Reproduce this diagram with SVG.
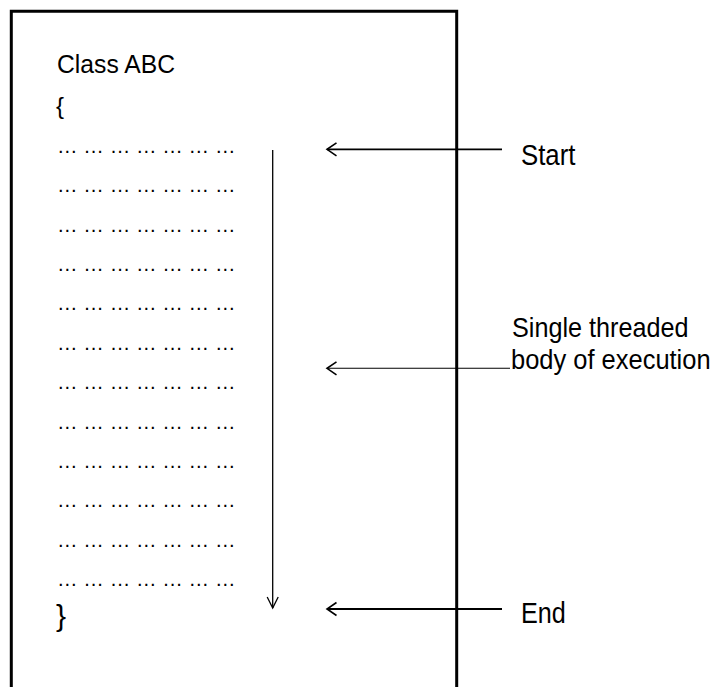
<svg xmlns="http://www.w3.org/2000/svg" width="716" height="687" viewBox="0 0 716 687">
<style>
.t{font-family:"Liberation Sans",Arial,sans-serif;fill:#000}
.lbl{font-family:"Liberation Sans",Arial,sans-serif;font-size:30px;fill:#000}
.lbl2{font-family:"Liberation Sans",Arial,sans-serif;font-size:28px;fill:#000}
.dots{font-family:"Liberation Sans",Arial,sans-serif;font-size:20.6px;fill:#000}
.conn{fill:none;stroke:#000}
</style>
<defs>
<marker id="headL" markerUnits="userSpaceOnUse" orient="auto" markerWidth="20" markerHeight="20" refX="0" refY="0" viewBox="-2 -10 14 20" overflow="visible">
<path d="M9.5,-6.5 L0,0 L9.5,6.5" fill="none" stroke="#000" stroke-width="1.6"/>
</marker>
<marker id="headD" markerUnits="userSpaceOnUse" orient="auto" markerWidth="20" markerHeight="20" refX="0" refY="0" viewBox="-14 -10 16 20" overflow="visible">
<path d="M-11,-5.5 L0,0 L-11,5.5" fill="none" stroke="#000" stroke-width="1.3"/>
</marker>
</defs>
<rect width="716" height="687" fill="#fff"/>
<g id="class-box">
<path d="M11.3,700 V11.3 H456.7 V700" fill="none" stroke="#000" stroke-width="3"/>
<text class="t" transform="translate(57,73) scale(0.95,1)" font-size="26">Class ABC</text>
<text class="t" x="56" y="114" font-size="24">{</text>
<g id="body-lines">
<text class="dots" x="57" y="152.7">… … … … … … …</text>
<text class="dots" x="57" y="192.1">… … … … … … …</text>
<text class="dots" x="57" y="231.5">… … … … … … …</text>
<text class="dots" x="57" y="270.9">… … … … … … …</text>
<text class="dots" x="57" y="310.3">… … … … … … …</text>
<text class="dots" x="57" y="349.7">… … … … … … …</text>
<text class="dots" x="57" y="389.1">… … … … … … …</text>
<text class="dots" x="57" y="428.5">… … … … … … …</text>
<text class="dots" x="57" y="467.9">… … … … … … …</text>
<text class="dots" x="57" y="507.3">… … … … … … …</text>
<text class="dots" x="57" y="546.7">… … … … … … …</text>
<text class="dots" x="57" y="586.1">… … … … … … …</text>
</g>
<text class="t" x="56" y="626" font-size="30">}</text>
</g>
<g id="label-start">
<text class="lbl" transform="translate(521,165) scale(0.86,1)">Start</text>
</g>
<g id="label-body">
<text class="lbl2" transform="translate(512,337) scale(0.9,1)">Single threaded</text>
<text class="lbl2" transform="translate(511,369) scale(0.91,1)">body of execution</text>
</g>
<g id="label-end">
<text class="lbl" transform="translate(521,623) scale(0.84,1)">End</text>
</g>
<g id="connectors">
<path class="conn" d="M272.7,150 V608" stroke-width="1.3" marker-end="url(#headD)"/>
<path class="conn" d="M327,149.3 H502" stroke-width="1.8" marker-start="url(#headL)"/>
<path class="conn" d="M327,368.3 H510" stroke-width="1.1" marker-start="url(#headL)"/>
<path class="conn" d="M327,609 H502" stroke-width="1.8" marker-start="url(#headL)"/>
</g>
</svg>
